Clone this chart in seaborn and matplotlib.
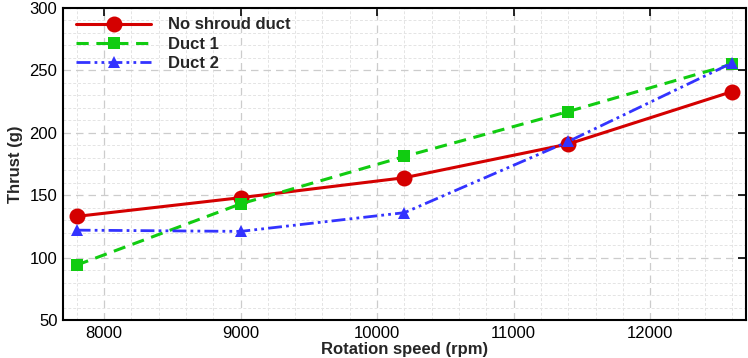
import matplotlib
matplotlib.use("Agg")
import matplotlib.pyplot as plt
import seaborn as sns
import pandas as pd
from matplotlib.ticker import MultipleLocator

rpm = [7800, 9000, 10200, 11400, 12600]
no_shroud = [133, 148, 164, 191, 233]
duct1 = [94, 143, 181, 217, 255]
duct2 = [122, 121, 136, 193, 256]
series_names = ["No shroud duct", "Duct 1", "Duct 2"]

sns.set_theme(style="white")
plt.rcParams['font.family'] = ['Liberation Sans', 'DejaVu Sans']

fig = plt.figure(figsize=(7.48, 3.58), dpi=100)
ax = fig.add_axes([0.0842, 0.106, 0.913, 0.872])

styles = [
    dict(color="#d40000", marker="o", linestyle="-", markersize=11.5, linewidth=2.2),
    dict(color="#11cc11", marker="s", linestyle=(0, (4, 2.5)), markersize=9, linewidth=2.2),
    dict(color="#3333ff", marker="^", linestyle=(0, (5, 1.5, 1, 1.5, 1, 1.5)), markersize=9, linewidth=2.0),
]
for name, vals, st in zip(series_names, [no_shroud, duct1, duct2], styles):
    df = pd.DataFrame({"rpm": rpm, "thrust": vals})
    sns.lineplot(data=df, x="rpm", y="thrust", ax=ax, label=name,
                 markeredgewidth=0, **st)

ax.set_xlim(7700, 12700)
ax.set_ylim(50, 300)
ax.xaxis.set_major_locator(MultipleLocator(1000))
ax.xaxis.set_minor_locator(MultipleLocator(200))
ax.yaxis.set_major_locator(MultipleLocator(50))
ax.yaxis.set_minor_locator(MultipleLocator(10))
ax.grid(which="major", color="#cccccc", linestyle=(0, (6, 4)), linewidth=0.9)
ax.grid(which="minor", color="#e4e4e4", linestyle=(0, (3, 2)), linewidth=0.7)
ax.set_axisbelow(True)
ax.tick_params(which="major", direction="in", length=6, width=1.2, top=True, right=True,
               labelsize=12, colors="black", pad=4)
ax.tick_params(which="minor", length=0)
for s in ax.spines.values():
    s.set_color("black")
    s.set_linewidth(1.5)
ax.set_xlabel("Rotation speed (rpm)", fontsize=12, fontweight="bold", labelpad=1)
ax.set_ylabel("Thrust (g)", fontsize=12, fontweight="bold", labelpad=5)

leg = ax.legend(loc="upper left", bbox_to_anchor=(0.0, 1.012), frameon=False,
                prop={"weight": "bold", "size": 12},
                handlelength=4.5, borderaxespad=0.4, labelspacing=0.25, handletextpad=1.0)
fig.savefig("out.png", dpi=100)
